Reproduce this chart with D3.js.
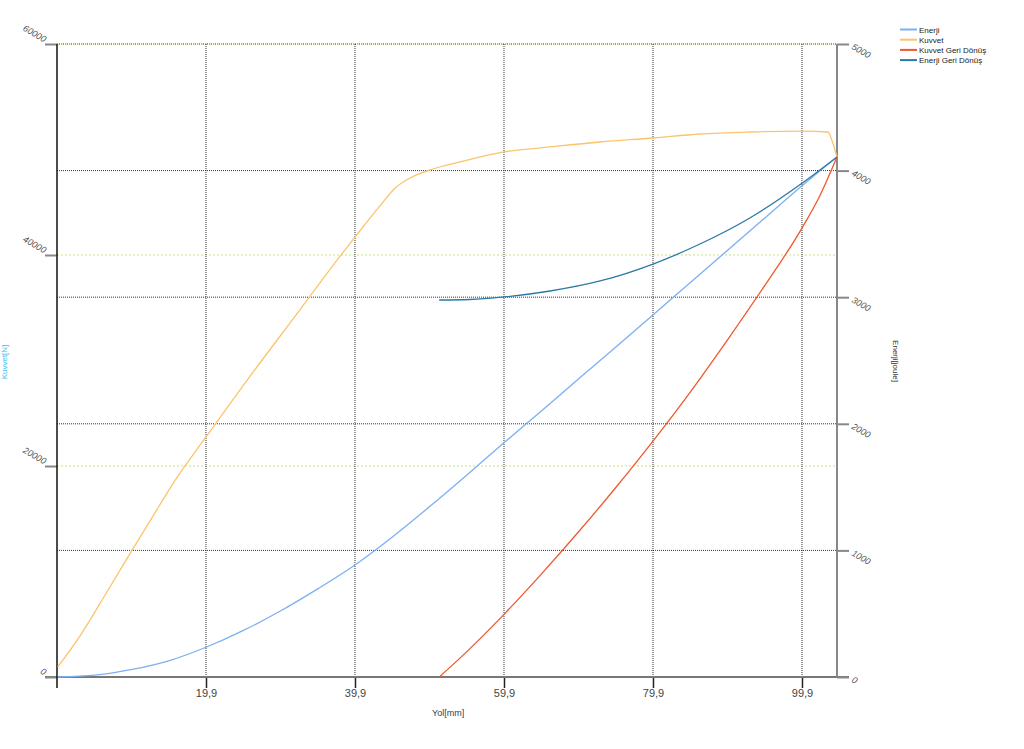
<!DOCTYPE html>
<html>
<head>
<meta charset="utf-8">
<script src="https://cdn.jsdelivr.net/npm/d3@7"></script>
<style>
html,body{margin:0;padding:0;background:#fff;}
svg{display:block;font-family:"Liberation Sans",Arial,sans-serif;}
</style>
</head>
<body>
<svg id="chart" width="1024" height="749"></svg>
<script>
// ---- data ----
const seriesNames = ["Enerji", "Kuvvet", "Kuvvet Geri Dönüş", "Enerji Geri Dönüş"];
const seriesColors = ["#7cb0f2", "#fbc46c", "#f0582e", "#2b7aa6"];

const enerjiX = [0, 5, 10, 15, 19.9, 25, 30, 35, 39.9, 45, 50, 55, 59.9, 65, 70, 75, 79.9, 85, 90, 95, 99.9, 104.6];
const enerjiY = [0, 15, 60, 130, 235, 370, 525, 700, 885, 1110, 1350, 1600, 1850, 2105, 2360, 2610, 2860, 3120, 3375, 3630, 3880, 4108];

const kuvvetX = [0, 3.0, 6.3, 9.7, 12.4, 15.7, 19.9, 25.8, 32.5, 36.5, 39.9, 43.3, 45.3, 47.3, 50.0, 54.0, 59.9, 66.1, 72.8, 79.9, 86.2, 92.9, 99.9, 103.4, 103.9, 104.6];
const kuvvetY = [950, 3900, 7700, 11700, 14800, 18600, 22750, 28500, 34800, 38600, 41700, 44700, 46350, 47300, 48060, 48820, 49770, 50240, 50710, 51090, 51470, 51660, 51750, 51660, 50900, 49290];

const kuvvetGeriX = [51.2, 53.7, 56.7, 59.9, 64.7, 69.8, 74.8, 79.9, 84.9, 90.0, 94.9, 99.9, 102.3, 104.6];
const kuvvetGeriY = [0, 1600, 3640, 5940, 9590, 13670, 17870, 22360, 27010, 32060, 37100, 42550, 45620, 49290];

const enerjiGeriX = [51.2, 55.3, 59.9, 66.1, 72.8, 79.9, 86.2, 92.9, 99.9, 104.6];
const enerjiGeriY = [2978, 2982, 3002, 3049, 3128, 3262, 3420, 3626, 3900, 4108];

const xTicks = [19.9, 39.9, 59.9, 79.9, 99.9];
const leftTicks = [0, 20000, 40000, 60000];
const rightTicks = [0, 1000, 2000, 3000, 4000, 5000];
const xTitle = "Yol[mm]";
const leftTitle = "Kuvvet[N]";
const rightTitle = "Enerji[joule]";

// ---- layout ----
const svg = d3.select("#chart");
const L = 57, R = 837, T = 44, B = 677;
const x = d3.scaleLinear().domain([-0.1, 104.6]).range([L, R]);
const yL = d3.scaleLinear().domain([0, 60000]).range([B, T]);
const yR = d3.scaleLinear().domain([0, 5000]).range([B, T]);

// gridlines
const grid = svg.append("g");
grid.selectAll("line.gr").data(rightTicks.filter(d => d > 0)).join("line")
  .attr("x1", L).attr("x2", R)
  .attr("y1", d => yR(d)).attr("y2", d => yR(d))
  .attr("stroke", "#333").attr("stroke-width", 1).attr("stroke-dasharray", "1,1");
grid.selectAll("line.gl").data(leftTicks.filter(d => d > 0)).join("line")
  .attr("x1", L).attr("x2", R)
  .attr("y1", d => yL(d)).attr("y2", d => yL(d))
  .attr("stroke", "#c6e27a").attr("stroke-width", 1).attr("stroke-dasharray", "2,2");
grid.selectAll("line.gx").data(xTicks).join("line")
  .attr("x1", d => x(d)).attr("x2", d => x(d))
  .attr("y1", T).attr("y2", B)
  .attr("stroke", "#333").attr("stroke-width", 1).attr("stroke-dasharray", "1,1");

// axes
const bottomAxis = d3.axisBottom(x).tickValues(xTicks).tickSize(11).tickSizeOuter(0)
  .tickFormat(d => d3.format(".1f")(d).replace(".", ","));
const gB = svg.append("g").attr("transform", `translate(0,${B})`).call(bottomAxis);
gB.select(".domain").remove();
gB.selectAll(".tick line").attr("stroke", "#222").attr("stroke-width", 1.5);
gB.selectAll(".tick text").attr("fill", "#444").attr("font-size", 11).attr("dy", "0.55em");
svg.append("line").attr("x1", 45).attr("x2", 849).attr("y1", B).attr("y2", B)
  .attr("stroke", "#777").attr("stroke-width", 2);

const plain = d => String(d);
const leftAxis = d3.axisLeft(yL).tickValues(leftTicks).tickSize(12).tickSizeOuter(0).tickFormat(plain);
const gL = svg.append("g").attr("transform", `translate(${L},0)`).call(leftAxis);
gL.select(".domain").remove();
gL.selectAll(".tick line").attr("stroke", "#888").attr("stroke-width", 2);
gL.selectAll(".tick text")
  .attr("x", 0).attr("dy", 0)
  .attr("transform", "translate(-13,-2) rotate(30)")
  .attr("text-anchor", "end")
  .attr("font-size", 9).attr("font-style", "italic").attr("fill", "#555");
svg.append("line").attr("x1", L).attr("x2", L).attr("y1", T).attr("y2", 688)
  .attr("stroke", "#111").attr("stroke-width", 1.5);

const rightAxis = d3.axisRight(yR).tickValues(rightTicks).tickSize(12).tickSizeOuter(0).tickFormat(plain);
const gR = svg.append("g").attr("transform", `translate(${R},0)`).call(rightAxis);
gR.select(".domain").remove();
gR.selectAll(".tick line").attr("stroke", "#888").attr("stroke-width", 2);
gR.selectAll(".tick text")
  .attr("x", 0).attr("dy", 0)
  .attr("transform", "translate(14,4) rotate(30)")
  .attr("text-anchor", "start")
  .attr("font-size", 9).attr("font-style", "italic").attr("fill", "#555");
svg.append("line").attr("x1", R).attr("x2", R).attr("y1", T).attr("y2", B)
  .attr("stroke", "#888").attr("stroke-width", 2);

// axis titles
svg.append("text").attr("x", 432).attr("y", 716).attr("font-size", 9).attr("fill", "#2a3f5a").text(xTitle);
svg.append("text").attr("transform", "translate(893,361) rotate(90)").attr("text-anchor", "middle")
  .attr("font-size", 8).attr("fill", "#333").text(rightTitle);
svg.append("text").attr("transform", "translate(7,362) rotate(-90)").attr("text-anchor", "middle")
  .attr("font-size", 8).attr("fill", "#40c0f0").text(leftTitle);

// lines
const mk = (xs, ys, sy) => d3.line().curve(d3.curveMonotoneX)
  .x((d, i) => x(xs[i])).y((d, i) => sy(ys[i]))(xs);
const lineDefs = [
  [enerjiX, enerjiY, yR, 0],
  [kuvvetX, kuvvetY, yL, 1],
  [kuvvetGeriX, kuvvetGeriY, yL, 2],
  [enerjiGeriX, enerjiGeriY, yR, 3]
];
const gLines = svg.append("g");
lineDefs.forEach(([xs, ys, sy, ci]) => {
  gLines.append("path").attr("d", mk(xs, ys, sy))
    .attr("fill", "none").attr("stroke", seriesColors[ci]).attr("stroke-width", 1.3);
});

// legend
const lg = svg.append("g");
seriesNames.forEach((n, i) => {
  const yy = 29.5 + i * 10.2;
  lg.append("line").attr("x1", 900).attr("x2", 917).attr("y1", yy).attr("y2", yy)
    .attr("stroke", seriesColors[i]).attr("stroke-width", 2);
  lg.append("text").attr("x", 919).attr("y", yy + 3).attr("font-size", 8).attr("fill", "#222").text(n);
});
</script>
</body>
</html>
